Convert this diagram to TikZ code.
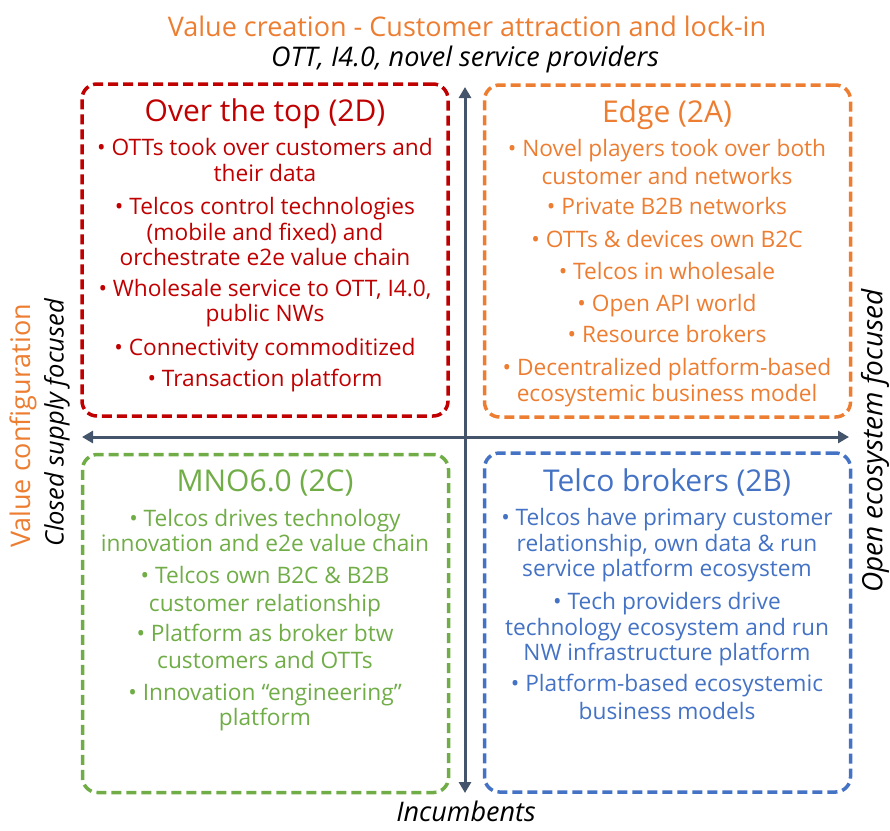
\documentclass[tikz,border=0pt]{standalone}
\usepackage{fontspec}
\setmainfont{Open Sans}
\usetikzlibrary{arrows.meta}

\definecolor{ottred}{HTML}{C00000}
\definecolor{edgeorange}{HTML}{ED7D31}
\definecolor{mnogreen}{HTML}{70AD47}
\definecolor{brokerblue}{HTML}{4472C4}
\definecolor{axisgray}{HTML}{44546A}

\tikzset{
  quad/.style={draw, line width=3.5pt, dash pattern=on 10pt off 5pt,
    rounded corners=15pt, minimum width=366pt, minimum height=332pt, inner sep=0pt},
  quadtitle/.style={anchor=base, inner sep=0pt, font=\fontsize{30}{34}\selectfont},
  bodyline/.style={anchor=base, inner sep=0pt, font=\fontsize{22.7}{26}\selectfont},
  axis/.style={draw=axisgray, line width=3pt,
    {Triangle[length=11pt,width=12pt]}-{Triangle[length=11pt,width=12pt]}},
  heading/.style={inner sep=0pt, text=edgeorange, font=\fontsize{27}{32}\selectfont},
  axislabel/.style={inner sep=0pt, font=\fontsize{27}{32}\selectfont\itshape},
}

\begin{document}
\begin{tikzpicture}[x=1pt, y=-1pt]
  \useasboundingbox (0,0) rectangle (890,830);

  % axis captions
  \node[heading] (valcreation) at (467,26) {Value creation - Customer attraction and lock-in};
  \node[axislabel] (novel) at (465,59) {OTT, I4.0, novel service providers};
  \node[axislabel] (incumbents) at (466,811) {Incumbents};
  \node[heading, rotate=90] (valconfig) at (23,426) {Value configuration};
  \node[axislabel, rotate=90, font=\fontsize{25.5}{30}\selectfont\itshape] (closed) at (57,423) {Closed supply focused};
  \node[axislabel, rotate=90, font=\fontsize{28}{32}\selectfont\itshape] (open) at (875,441) {Open ecosystem focused};

  % the two axes
  \coordinate (vtop) at (465,87);
  \coordinate (vbot) at (465,793);
  \coordinate (hleft) at (82,437);
  \coordinate (hright) at (849,437);
  \draw[axis] (vbot) -- (vtop);
  \draw[axis] (hleft) -- (hright);

  % quadrant frames
  \node[quad, draw=ottred, minimum height=332pt] (tl) at (265,250) {};
  \node[quad, draw=edgeorange, minimum height=332pt] (tr) at (667.5,251) {};
  \node[quad, draw=mnogreen, minimum height=338pt] (bl) at (265.5,623.5) {};
  \node[quad, draw=brokerblue, minimum height=339pt] (br) at (667.5,622.5) {};

  % Over the top (2D)
  \node[quadtitle, text=ottred] (tl-title) at (265,121) {Over the top (2D)};
  \foreach \yy/\txt in {
    155/{• OTTs took over customers and},
    181/{their data},
    214/{• Telcos control technologies},
    240/{(mobile and fixed) and},
    265/{orchestrate e2e value chain},
    296/{• Wholesale service to OTT, I4.0,},
    321/{public NWs},
    355/{• Connectivity commoditized},
    386/{• Transaction platform}}
    \node[bodyline, text=ottred] (tl-\yy) at (265,\yy) {\txt};

  % Edge (2A)
  \node[quadtitle, text=edgeorange] (tr-title) at (667,122) {Edge (2A)};
  \foreach \yy/\txt in {
    156/{• Novel players took over both},
    184/{customer and networks},
    214/{• Private B2B networks},
    247/{• OTTs \& devices own B2C},
    279/{• Telcos in wholesale},
    311/{• Open API world},
    342/{• Resource brokers},
    375/{• Decentralized platform-based},
    401/{ecosystemic business model}}
    \node[bodyline, text=edgeorange] (tr-\yy) at (667,\yy) {\txt};

  % MNO6.0 (2C)
  \node[quadtitle, text=mnogreen] (bl-title) at (265,491) {MNO6.0 (2C)};
  \foreach \yy/\txt in {
    526/{• Telcos drives technology},
    551/{innovation and e2e value chain},
    583/{• Telcos own B2C \& B2B},
    611/{customer relationship},
    641/{• Platform as broker btw},
    668/{customers and OTTs},
    700/{• Innovation “engineering”},
    725/{platform}}
    \node[bodyline, text=mnogreen] (bl-\yy) at (265,\yy) {\txt};

  % Telco brokers (2B)
  \node[quadtitle, text=brokerblue] (br-title) at (667,491) {Telco brokers (2B)};
  \foreach \yy/\txt in {
    525/{• Telcos have primary customer},
    551/{relationship, own data \& run},
    576/{service platform ecosystem},
    609/{• Tech providers drive},
    635/{technology ecosystem and run},
    660/{NW infrastructure platform},
    691/{• Platform-based ecosystemic},
    719/{business models}}
    \node[bodyline, text=brokerblue] (br-\yy) at (667,\yy) {\txt};
\end{tikzpicture}
\end{document}
